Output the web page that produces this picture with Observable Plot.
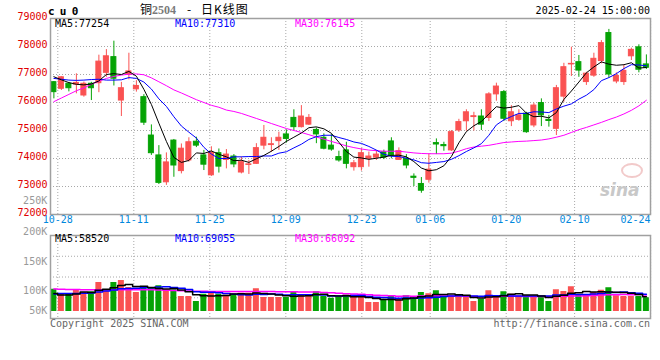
<!DOCTYPE html>
<html lang="zh-CN">
<head>
<meta charset="utf-8">
<script src="https://cdn.jsdelivr.net/npm/d3@7"></script>
<script src="https://cdn.jsdelivr.net/npm/@observablehq/plot@0.6"></script>
<style>
  html, body { margin: 0; padding: 0; background: #fff; }
  #chart { position: relative; width: 660px; height: 360px; overflow: hidden; background: #fff; }
  #chart svg { position: absolute; left: 0; top: 0; }
  .t { position: absolute; white-space: pre; font-family: "DejaVu Sans Mono", monospace; font-size: 10px; line-height: 10px; }
</style>
</head>
<body>
<div id="chart"></div>
<script>
// ---------------- data ----------------
const openP = [76725,76490,76670,76640,76250,76670,76690,77060,77620,76070,
  76990,76470,76190,74820,74110,73150,74640,73550,73930,74600,
  74110,73400,74190,73950,74070,73500,73770,73810,74460,74480,
  74620,74860,75450,75120,75210,75020,74740,74460,74050,74290,
  73690,73690,73990,74030,74220,74610,73950,73990,73350,73090,
  73240,74550,74480,74290,75000,75330,75480,75500,75450,76290,
  76370,75330,75380,75600,75180,75980,75380,75060,76210,77360,
  77440,76730,76960,77480,78480,76750,76730,77650,77970,77360];
const highP = [76750,76920,76720,77025,76730,76720,77690,77890,78190,76720,
  77760,76780,76280,75200,74460,74200,74680,74520,74740,74760,
  74290,74420,74340,74320,74140,74050,73930,74530,75180,74740,
  74940,75020,75740,75890,75570,75090,74880,74860,74260,74580,
  73930,74350,74230,74260,74300,74740,74380,74140,73450,73320,
  74170,74700,74580,75000,75400,75740,75650,75740,76350,76690,
  76430,75890,75740,75650,75975,76130,75540,76610,77400,77975,
  77680,77080,77760,78210,78610,77060,77340,77940,78060,77700];
const lowP = [76130,76430,76380,76310,76190,76070,76350,76900,76590,75500,
  76810,76370,75180,74110,73070,73040,73330,73450,73870,74390,
  73570,73360,73480,73630,73670,73450,73430,73790,74310,74220,
  74290,74550,75000,75090,75180,74530,74310,74260,73870,73630,
  73550,73550,73690,73930,73960,73990,73930,73630,73000,72760,
  73120,74140,74260,74250,74930,74975,74980,75000,75320,76046,
  75320,75140,75330,74900,75100,75140,75120,74820,76010,76930,
  76900,76610,76900,77380,76870,76670,76610,77500,77060,77180];
const closeP = [76370,76900,76510,76700,76670,76510,77460,77650,76850,76510,
  77110,76590,75280,74190,73130,73860,73750,74350,74580,74460,
  73780,74200,73710,74140,73790,73870,73790,74370,74740,74510,
  74740,74700,75120,75500,75450,74860,74350,74320,73930,73810,
  73830,74190,74070,74140,74030,74110,74260,73750,73310,72850,
  73600,74500,74440,74940,75300,75650,75510,75210,76290,76570,
  75420,75650,75540,74940,75890,75540,75340,76510,77260,77380,
  77140,77030,77560,78120,77000,76950,77130,77880,77170,77240];

const ma5 = [76920,76810,76710,76650,76630,76660,76770,77000,77030,77000,
  77110,76940,76470,75930,75260,74610,74040,73860,73930,74200,
  74180,74270,74150,74060,73920,73940,73860,73990,74110,74260,
  74430,74610,74760,74910,75100,75130,75060,74900,74580,74250,
  74050,74020,73970,74010,74050,74110,74120,74060,73890,73660,
  73560,73600,73740,74070,74560,74960,75170,75320,75590,75850,
  75800,75830,75890,75620,75490,75510,75450,75640,76110,76410,
  76730,77060,77270,77450,77370,77330,77350,77420,77230,77250];
const ma10 = [76860,76830,76800,76790,76800,76820,76830,76800,76800,76810,
  76890,76860,76730,76480,76130,75860,75490,75160,74940,74730,
  74400,74160,74000,74000,74060,74060,74070,74070,74090,74090,
  74190,74240,74380,74510,74680,74780,74830,74830,74750,74680,
  74590,74540,74430,74300,74150,74080,74070,74010,73950,73850,
  73830,73860,73890,73970,74100,74250,74380,74530,74830,75200,
  75380,75500,75610,75610,75670,75660,75640,75770,75870,75950,
  76120,76260,76460,76780,76890,77030,77210,77350,77340,77310];
const ma30 = [76030,76160,76290,76420,76520,76650,76760,76860,76930,76980,
  77010,77020,76990,76880,76740,76600,76450,76340,76220,76100,
  76000,75900,75830,75730,75680,75610,75520,75430,75340,75250,
  75160,75070,75000,74930,74850,74770,74690,74610,74530,74450,
  74390,74340,74300,74280,74260,74260,74260,74230,74200,74180,
  74170,74170,74170,74190,74260,74350,74410,74440,74470,74520,
  74570,74590,74610,74620,74640,74660,74700,74760,74830,74930,
  75030,75110,75200,75290,75390,75480,75590,75720,75880,76080];

// volume, thousands of lots
const volume = [89,69,69,87,76,79,116,87,116,124,
  96,76,92,92,103,87,87,60,60,40,
  69,79,69,65,69,73,73,91,56,56,
  56,56,79,65,60,79,60,53,57,66,
  60,60,36,36,49,60,49,63,49,76,
  71,83,60,60,60,60,40,49,83,63,
  79,69,60,60,60,60,40,87,80,99,
  67,67,76,85,95,63,60,60,60,55];
const volMa5 = [72,66,66,70,78,76,85,89,95,104,
  108,100,101,96,92,90,92,86,79,67,
  63,62,63,64,70,71,70,74,72,70,
  66,63,61,62,63,68,69,63,62,63,
  59,59,56,52,48,48,46,51,54,59,
  62,68,68,70,67,65,56,54,58,59,
  63,69,71,66,66,62,56,61,65,73,
  75,80,78,79,78,77,76,73,68,59];
const volMa10 = [70,72,72,72,73,74,78,82,86,91,
  92,93,95,95,98,99,96,93,88,79,
  77,77,75,72,69,67,66,69,68,70,
  69,66,67,67,67,67,66,62,62,63,
  64,64,60,57,56,54,53,54,53,54,
  55,57,60,62,63,63,62,61,64,63,
  64,62,62,62,62,62,62,66,66,69,
  68,68,70,72,76,76,78,75,73,69];
const volMa30 = [90,89,88,88,87,87,87,87,87,87,
  87,87,87,87,86,85,84,83,82,81,
  81,80,80,80,80,80,80,80,80,80,
  79,79,79,78,78,78,76,75,73,71,
  70,69,67,65,64,63,61,62,61,62,
  62,63,62,62,62,61,60,59,60,60,
  61,61,61,60,60,60,59,60,61,62,
  62,63,64,66,67,67,68,67,68,66];

const priceTicks = [72000,73000,74000,75000,76000,77000,78000,79000];
const dateTickIdx = [1,11,21,31,41,50,60,69,79];
const dateTickLabels = ["10-28","11-11","11-25","12-09","12-23","01-06","01-20","02-10","02-24"];
const volTickValues = [50,100,150,200,250];
const volTickLabels = ["50K","100K","150K","200K","250K"];

// ---------------- styles ----------------
const RED = "#fa5252", GREEN = "#05a305";
const GRID = "#a8a8a8", FRAME = "#a0a0a0";
const MONO = "'DejaVu Sans Mono', monospace";
const W = 660, H = 360;

const candles = openP.map((o, i) => ({
  i, open: o, high: highP[i], low: lowP[i], close: closeP[i],
  up: closeP[i] >= o,
  ma5: ma5[i], ma10: ma10[i], ma30: ma30[i],
  vol: volume[i], vma5: volMa5[i], vma10: volMa10[i], vma30: volMa30[i]
}));
const cx = d => d.i + 0.45;
const col = d => d.up ? RED : GREEN;

// sina's volume labels sit on an uneven (piecewise) ladder
const volLabelScale = d3.scaleLinear().domain(volTickValues).range([310.7, 290.3, 260.8, 231.7, 200]);

// bottom layer: date grid (sina's date grid runs on its own day spacing)
const dateGrid = Plot.plot({
  width: W, height: H,
  marginLeft: 49.7, marginRight: 9.9, marginTop: 18, marginBottom: 146,
  x: {domain: [0, 79], axis: null},
  style: {background: "white", fontFamily: MONO},
  marks: [
    Plot.ruleX(dateTickIdx, {x: d => d, stroke: GRID, strokeDasharray: "1,2"}),
    Plot.text(dateTickIdx.slice(0, -1), {x: d => d, text: (d, i) => dateTickLabels[i],
      frameAnchor: "bottom", dy: 8, fill: "#0088dd", fontSize: 10}),
    Plot.text(dateTickIdx.slice(-1), {x: d => d, text: () => dateTickLabels[dateTickLabels.length - 1],
      frameAnchor: "bottom", dy: 8, textAnchor: "end", fill: "#0088dd", fontSize: 10})
  ]
});

const volGrid = Plot.plot({
  width: W, height: H,
  marginLeft: 49.7, marginRight: 9.9, marginTop: 235, marginBottom: 42,
  x: {domain: [0, 79], axis: null},
  y: {type: "identity", axis: null},
  style: {background: "transparent", fontFamily: MONO, overflow: "visible"},
  marks: [
    Plot.ruleX(dateTickIdx, {x: d => d, stroke: GRID, strokeDasharray: "1,2"}),
    Plot.text(volTickValues, {y: d => volLabelScale(d), text: (d, i) => volTickLabels[i], frameAnchor: "left",
      textAnchor: "end", dx: -3, fill: "#999", fontSize: 10})
  ]
});

const pricePlot = Plot.plot({
  width: W, height: H,
  marginLeft: 50, marginRight: 10, marginTop: 18, marginBottom: 146,
  x: {domain: [0, 80], axis: null},
  y: {domain: [72000, 79000], axis: null},
  style: {background: "transparent", fontFamily: MONO, overflow: "visible"},
  marks: [
    Plot.ruleY(priceTicks.slice(1, -1), {y: d => d, stroke: GRID, strokeDasharray: "1,2"}),
    Plot.text(priceTicks, {y: d => d, text: d => String(d), frameAnchor: "left", textAnchor: "end",
      dx: -3, dy: -1.5, fill: "#e00000", fontSize: 10}),
    Plot.ruleX(candles, {x: cx, y1: "low", y2: "high", stroke: col}),
    Plot.rect(candles, {x1: d => cx(d) - 0.333, x2: d => cx(d) + 0.333, y1: "open", y2: "close",
      fill: col, stroke: col}),
    Plot.line(candles, {x: cx, y: "ma30", stroke: "#ff00ff", strokeWidth: 1}),
    Plot.line(candles, {x: cx, y: "ma10", stroke: "#0000ff", strokeWidth: 1}),
    Plot.line(candles, {x: cx, y: "ma5", stroke: "#000000", strokeWidth: 1}),
    Plot.frame({stroke: FRAME, strokeWidth: 1.5})
  ]
});

const volPlot = Plot.plot({
  width: W, height: H,
  marginLeft: 50, marginRight: 10, marginTop: 235, marginBottom: 42,
  x: {domain: [0, 80], axis: null},
  y: {domain: [-28, 304], axis: null},
  style: {background: "transparent", fontFamily: MONO, overflow: "visible"},
  marks: [
    Plot.ruleY([0.25, 0.5, 0.75].map(q => 304 - (304 + 28) * q), {y: d => d, stroke: GRID, strokeDasharray: "1,2"}),
    Plot.rect(candles, {x1: d => cx(d) - 0.4, x2: d => cx(d) + 0.4, y1: 0, y2: "vol", fill: col}),
    Plot.line(candles, {x: cx, y: "vma30", stroke: "#ff00ff", strokeWidth: 1.5, curve: "step"}),
    Plot.line(candles, {x: cx, y: "vma10", stroke: "#0000ff", strokeWidth: 1.5, curve: "step"}),
    Plot.line(candles, {x: cx, y: "vma5", stroke: "#000000", strokeWidth: 1.5, curve: "step"}),
    Plot.frame({stroke: FRAME, strokeWidth: 1.5})
  ]
});

const chart = document.getElementById("chart");
[dateGrid, volGrid, pricePlot, volPlot].forEach(s => chart.appendChild(s));

function addText(html, css) {
  const el = document.createElement("div");
  el.className = "t";
  el.innerHTML = html;
  Object.assign(el.style, css);
  chart.appendChild(el);
}
addText("cu0", {left: "48px", top: "6px", font: "bold 11px 'DejaVu Sans Mono', monospace", lineHeight: "11px", letterSpacing: "5.2px"});
addText("铜", {left: "140px", top: "3px", font: "12px 'Noto Sans CJK SC', sans-serif", lineHeight: "12px"});
addText("2504", {left: "152px", top: "4px", font: "bold 12px 'Liberation Serif', serif", lineHeight: "12px", color: "#7a7a7a"});
addText("-", {left: "187px", top: "3px", font: "12px 'Noto Sans CJK SC', sans-serif", lineHeight: "12px"});
addText("日K线图", {left: "201px", top: "3px", font: "12px 'Noto Sans CJK SC', sans-serif", lineHeight: "12px", letterSpacing: "1px"});
addText("2025-02-24 15:00:00", {right: "10px", top: "6px"});
addText("MA5:77254", {left: "55px", top: "18.5px", color: "#000"});
addText("MA10:77310", {left: "175px", top: "18.5px", color: "#0000ff"});
addText("MA30:76145", {left: "295px", top: "18.5px", color: "#ff00ff"});
addText("MA5:58520", {left: "55px", top: "233.5px", color: "#000"});
addText("MA10:69055", {left: "175px", top: "233.5px", color: "#0000ff"});
addText("MA30:66092", {left: "295px", top: "233.5px", color: "#ff00ff"});
addText("Copyright 2025 SINA.COM", {left: "50px", top: "318.5px", color: "#666"});
addText("http://finance.sina.com.cn", {right: "10px", top: "319px", color: "#666"});
// faint sina watermark (eye logo + word)
const eye = document.createElement("div");
Object.assign(eye.style, {position: "absolute", left: "621px", top: "163px", width: "18px", height: "11px",
  border: "2px solid #f2caca", borderRadius: "50%"});
chart.appendChild(eye);
addText("sina", {left: "600px", top: "182px", font: "italic bold 17px 'DejaVu Sans', sans-serif", lineHeight: "17px", color: "#c8c8c8"});
</script>
</body>
</html>
